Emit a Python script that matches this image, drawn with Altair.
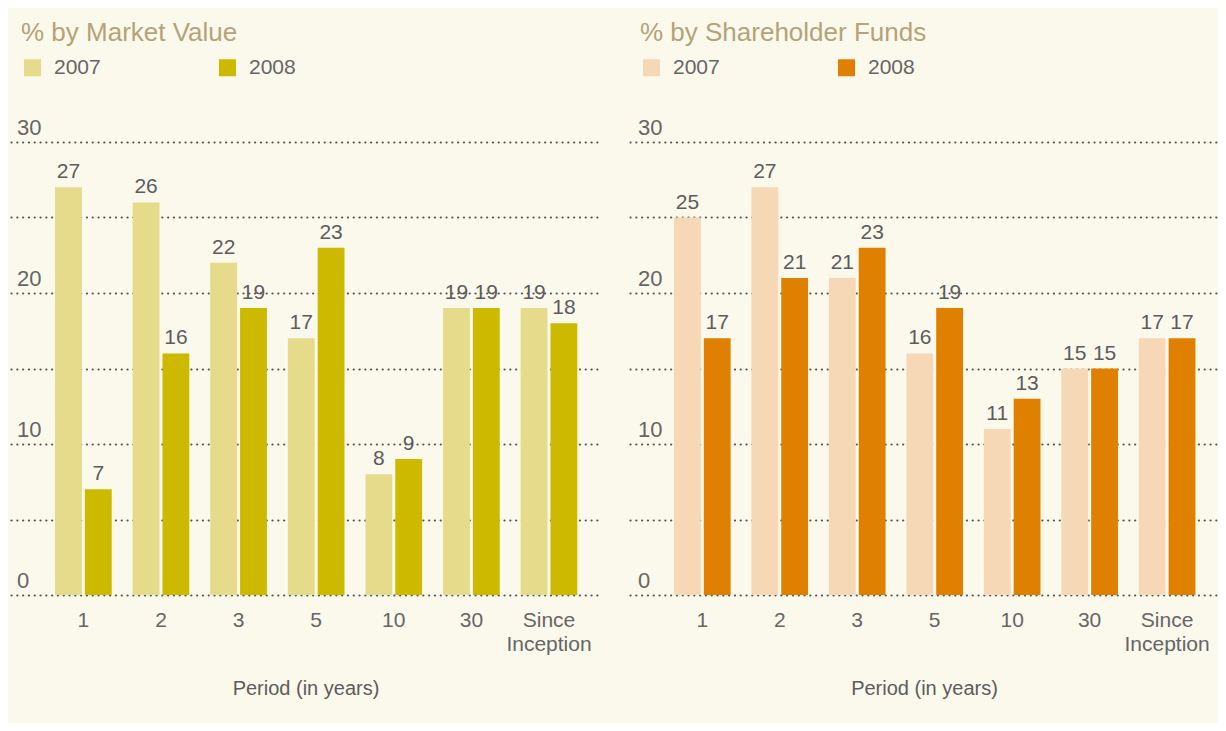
import altair as alt
import pandas as pd

periods = ["1", "2", "3", "5", "10", "30", "Since Inception"]
years = ["2007", "2008"]
mv_2007 = [27, 26, 22, 17, 8, 19, 19]
mv_2008 = [7, 16, 19, 23, 9, 19, 18]
sf_2007 = [25, 27, 21, 16, 11, 15, 17]
sf_2008 = [17, 21, 23, 19, 13, 15, 17]
y_labels = [0, 10, 20, 30]
grid_values = [0, 5, 10, 15, 20, 25, 30]

mv_colors = ["#E6DA8B", "#CDB900"]
sf_colors = ["#F7D8B6", "#E08000"]

BG = "#FBF9EC"
TITLE_C = "#B6A277"
TEXT_C = "#5C5C5C"
FONT = "Liberation Sans"


def panel(title, v07, v08, colors, width, label_x):
    df = pd.DataFrame({
        "period": periods * 2,
        "year": ["2007"] * len(periods) + ["2008"] * len(periods),
        "value": v07 + v08,
    })
    ticks = pd.DataFrame({"tick": y_labels})

    x = alt.X(
        "period:N", sort=periods,
        scale=alt.Scale(paddingInner=0.27, paddingOuter=0.43, align=0.66),
        axis=alt.Axis(
            title="Period (in years)", labelExpr="split(datum.label, ' ')",
            labelAngle=0, ticks=False, domain=False, grid=False,
            labelFontSize=21, labelColor="#666666", labelPadding=14,
            labelLineHeight=24, labelFont=FONT,
            titleFontSize=20, titleFontWeight="normal", titleColor=TEXT_C,
            titlePadding=24, titleFont=FONT,
        ),
    )
    xo = alt.XOffset("year:N", sort=years, scale=alt.Scale(paddingInner=0.1))
    y = alt.Y(
        "value:Q",
        scale=alt.Scale(domain=[0, 30], nice=False),
        axis=alt.Axis(
            values=grid_values, grid=True, labels=False, ticks=False,
            domain=False, title=None, gridColor="#555555", gridWidth=2.2,
            gridDash=[0.1, 5.7], gridCap="round",
        ),
    )

    bars = alt.Chart(df).mark_bar().encode(
        x=x, xOffset=xo, y=y,
        color=alt.Color(
            "year:N", sort=years,
            scale=alt.Scale(domain=years, range=colors),
            legend=alt.Legend(
                title=None, orient="none", legendX=11, legendY=-85,
                direction="horizontal", symbolType="square", symbolSize=289,
                symbolStrokeWidth=0, symbolOpacity=1, labelFontSize=21,
                labelColor="#666666", labelOffset=11, columnPadding=116,
                labelFont=FONT,
            ),
        ),
    )

    labels = alt.Chart(df).mark_text(
        baseline="alphabetic", dy=-9, fontSize=21, color=TEXT_C, font=FONT
    ).encode(
        x=alt.X("period:N", sort=periods),
        xOffset=alt.XOffset("year:N", sort=years),
        y=alt.Y("value:Q"),
        text=alt.Text("value:Q", format=".0f"),
    )

    yticks = alt.Chart(ticks).mark_text(
        align="left", baseline="alphabetic", dy=-7, fontSize=22,
        color="#666666", font=FONT
    ).encode(
        x=alt.value(label_x),
        y=alt.Y("tick:Q"),
        text=alt.Text("tick:Q"),
    )

    return alt.layer(bars, labels, yticks).properties(
        width=width, height=453,
        title=alt.Title(
            title, anchor="start", fontSize=26, color=TITLE_C,
            fontWeight="normal", dx=10, offset=11, font=FONT,
        ),
    )


left = panel("% by Market Value", mv_2007, mv_2008, mv_colors, 589, 6)
right = panel("% by Shareholder Funds", sf_2007, sf_2008, sf_colors, 588, 8)

chart = (
    alt.hconcat(left, right, spacing=30)
    .resolve_scale(color="independent")
    .resolve_legend(color="independent")
    .configure(font=FONT)
    .configure_view(stroke=None)
    .properties(background=BG, padding={"left": 3, "top": 12, "right": 0, "bottom": 25})
)

chart.save("out.html", embed_options={"renderer": "svg", "actions": False})
